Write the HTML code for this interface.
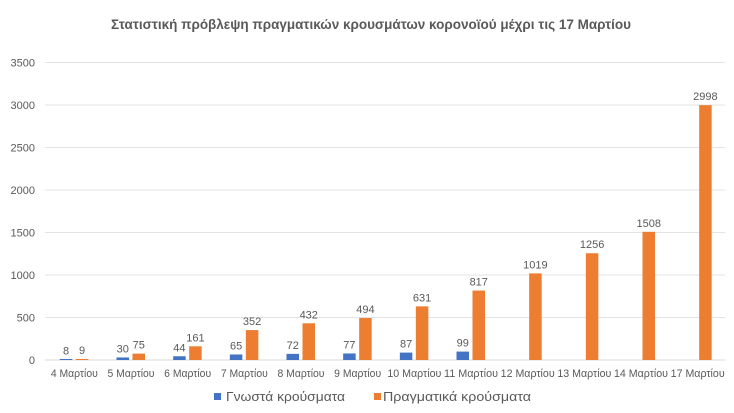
<!DOCTYPE html>
<html><head><meta charset="utf-8"><style>
html,body{margin:0;padding:0;background:#fff;}
svg{display:block;font-family:"Liberation Sans","DejaVu Sans",sans-serif;}
</style></head><body>
<svg width="734" height="413" viewBox="0 0 734 413" xmlns="http://www.w3.org/2000/svg">
<rect width="734" height="413" fill="#fff"/>
<text x="371" y="29" text-anchor="middle" font-size="14" font-weight="bold" fill="#595959" textLength="520" lengthAdjust="spacingAndGlyphs">Στατιστική πρόβλεψη πραγματικών κρουσμάτων κορονοϊού μέχρι τις 17 Μαρτίου</text>
<g stroke="#e3e3e3" stroke-width="1">
<line x1="45" x2="725" y1="62.5" y2="62.5"/>
<line x1="45" x2="725" y1="105" y2="105"/>
<line x1="45" x2="725" y1="147.5" y2="147.5"/>
<line x1="45" x2="725" y1="190" y2="190"/>
<line x1="45" x2="725" y1="232.5" y2="232.5"/>
<line x1="45" x2="725" y1="275" y2="275"/>
<line x1="45" x2="725" y1="317.5" y2="317.5"/>
<line x1="45" x2="725" y1="360" y2="360" stroke="#d9d9d9"/>
</g>
<g font-size="11" fill="#595959" text-anchor="end">
<text x="35" y="66.5">3500</text>
<text x="35" y="109">3000</text>
<text x="35" y="151.5">2500</text>
<text x="35" y="194">2000</text>
<text x="35" y="236.5">1500</text>
<text x="35" y="279">1000</text>
<text x="35" y="321.5">500</text>
<text x="35" y="364">0</text>
</g>
<g id="bars"></g>
<g id="labels" font-size="11" fill="#595959" text-anchor="middle"></g>
<g font-size="13" fill="#595959">
<rect x="214" y="393" width="7" height="7" fill="#4472C4"/>
<text x="226" y="401" textLength="119" lengthAdjust="spacingAndGlyphs">Γνωστά κρούσματα</text>
<rect x="374" y="393" width="7" height="7" fill="#ED7D31"/>
<text x="383" y="401" textLength="148" lengthAdjust="spacingAndGlyphs">Πραγματικά κρούσματα</text>
</g>
<script>
(function(){
var ns="http://www.w3.org/2000/svg";
var cats=["4 Μαρτίου","5 Μαρτίου","6 Μαρτίου","7 Μαρτίου","8 Μαρτίου","9 Μαρτίου","10 Μαρτίου","11 Μαρτίου","12 Μαρτίου","13 Μαρτίου","14 Μαρτίου","17 Μαρτίου"];
var known=[8,30,44,65,72,77,87,99,null,null,null,null];
var real=[9,75,161,352,432,494,631,817,1019,1256,1508,2998];
var bars=document.getElementById("bars"),labels=document.getElementById("labels");
var k=0.085,base=360;
function rect(x,v,col){var h=Math.max(v*k,1);var r=document.createElementNS(ns,"rect");r.setAttribute("x",x);r.setAttribute("y",base-h);r.setAttribute("width",12.5);r.setAttribute("height",h);r.setAttribute("fill",col);bars.appendChild(r);}
function txt(x,y,s,len){var t=document.createElementNS(ns,"text");t.setAttribute("x",x);t.setAttribute("y",y);if(len){t.setAttribute("textLength",len);t.setAttribute("lengthAdjust","spacingAndGlyphs");}t.textContent=s;labels.appendChild(t);}
for(var i=0;i<12;i++){
var c=46+56.667*(i+0.5);
if(known[i]!==null){rect(c-14.5,known[i],"#4472C4");txt(c-8.25,base-known[i]*k-5,String(known[i]));}
rect(c+1.5,real[i],"#ED7D31");txt(c+7.75,base-real[i]*k-5,String(real[i]));
txt(c,377,cats[i],cats[i].length>9?54:47);
}
})();
</script>
</svg>
</body></html>
